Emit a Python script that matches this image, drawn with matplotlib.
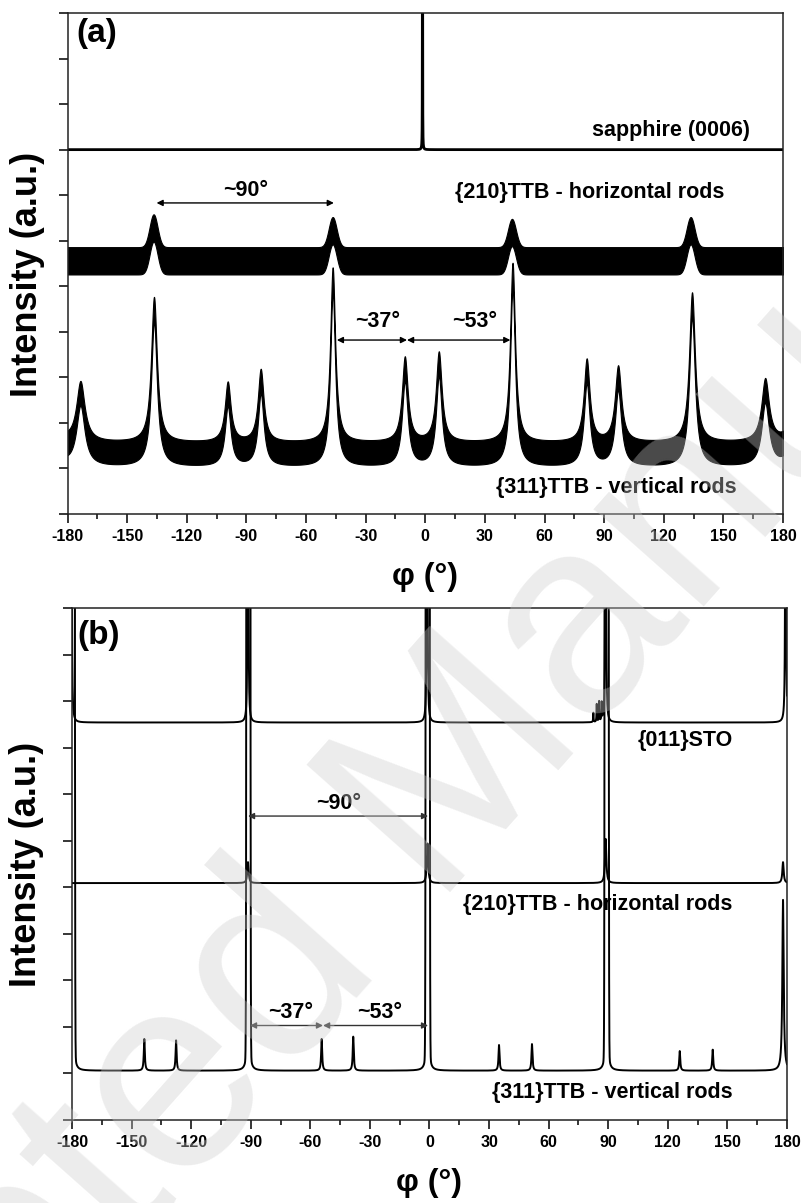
"""Phi scans: (a) sapphire / TTB rods, (b) STO / TTB rods.

Traces are rebuilt from peak lists (position, height, width) read off the
original figure; each scan is a flat baseline plus Lorentzian or Gaussian peaks.
"""

import matplotlib.pyplot as plt
import numpy as np
from matplotlib.ticker import MultipleLocator

plt.rcParams["font.family"] = ["Liberation Sans", "DejaVu Sans"]
plt.rcParams["font.weight"] = "bold"
plt.rcParams["axes.unicode_minus"] = False

# ---- panel (a) ----
SAPPHIRE_BASE = 8.0
SAPPHIRE_POS = [-1.4]
SAPPHIRE_HEIGHT = [200.0]
SAPPHIRE_FWHM = [0.02]

A210_BASE = 5.56
A210_POS = [-136.7, -46.6, 43.6, 133.5]
A210_HEIGHT = [0.72, 0.66, 0.62, 0.66]
A210_SIGMA = [2.0, 2.0, 2.0, 2.0]
A210_NOISE = 0.30

A311_BASE = 1.30
A311_POS = [-173.5, -136.5, -99.4, -82.8, -46.6, -10.3, 6.8, 43.9, 81.2, 97.0, 134.2, 171.0]
A311_HEIGHT = [1.31, 3.18, 1.31, 1.59, 3.83, 1.86, 1.97, 3.93, 1.81, 1.66, 3.28, 1.37]
A311_FWHM = [5.0, 3.5, 3.5, 3.5, 3.0, 3.5, 3.5, 3.0, 3.5, 3.8, 3.5, 4.5]
A311_NOISE = 0.27

# ---- panel (b) ----
STO_BASE = 8.54
STO_POS = [-180.3, -91.4, -1.2, 88.7, 179.3, 82.5, 84.2, 85.4, 86.7]
STO_HEIGHT = [40.0, 40.0, 40.0, 40.0, 40.0, 0.20, 0.38, 0.43, 0.38]
STO_FWHM = [0.17, 0.17, 0.17, 0.17, 0.17, 0.25, 0.25, 0.25, 0.25]

B210_BASE = 5.09
B210_POS = [-91.4, -1.0, 88.7, 178.0]
B210_HEIGHT = [0.45, 0.85, 0.95, 0.45]
B210_FWHM = [0.8, 0.8, 0.8, 0.8]

B311_BASE = 1.06
B311_POS = [-179.6, -143.6, -127.6, -91.2, -54.3, -38.4, -0.9, 35.0, 51.6, 89.2, 126.0, 142.6, 178.0]
B311_HEIGHT = [1.5, 0.68, 0.65, 1.5, 0.68, 0.73, 1.5, 0.55, 0.57, 1.5, 0.42, 0.45, 3.67]
B311_FWHM = [1.2, 0.6, 0.6, 1.2, 0.6, 0.6, 1.2, 0.6, 0.6, 1.2, 0.6, 0.6, 0.8]
# strong cores of the four big {311} reflections (far off scale)
B311_CORE_POS = [-179.6, -91.2, -0.9, 89.2]
B311_CORE_HEIGHT = [1000.0, 1000.0, 1000.0, 1000.0]
B311_CORE_SIGMA = [0.35, 0.35, 0.35, 0.35]

PHI = np.linspace(-180, 180, 36001)


def scan(base, pos, height, width, kind="lorentz", periodic=False):
    """Baseline plus a sum of peaks on the PHI grid (width = FWHM or sigma)."""
    y = np.full_like(PHI, base)
    for p, h, w in zip(pos, height, width):
        d = PHI - p
        if periodic:
            d = (d + 180) % 360 - 180
        if kind == "gauss":
            y += h * np.exp(-0.5 * (d / w) ** 2)
        else:
            g = w / 2
            y += h * g**2 / (d**2 + g**2)
    return y


def style_axes(ax):
    ax.set_xlim(-180, 180)
    ax.set_ylim(0, 11)
    ax.set_facecolor("none")
    ax.xaxis.set_major_locator(MultipleLocator(30))
    ax.xaxis.set_minor_locator(MultipleLocator(15))
    ax.yaxis.set_major_locator(MultipleLocator(1))
    ax.tick_params(axis="x", which="major", direction="out", length=6.5, width=1.1,
                   labelsize=11.5, pad=4, top=False)
    ax.tick_params(axis="x", which="minor", direction="out", length=3.5, width=1.1, top=False)
    ax.tick_params(axis="y", which="both", direction="out", length=6.5, width=1.1,
                   labelleft=False, right=False)
    for lab in ax.get_xticklabels():
        lab.set_fontweight("bold")
    for s in ax.spines.values():
        s.set_linewidth(1.1)
        s.set_color("#222222")
    ax.set_xlabel("φ (°)", fontsize=23, fontweight="bold", va="center")
    ax.set_ylabel("Intensity (a.u.)", fontsize=26, fontweight="bold", va="center", ha="center")


def arrow(ax, x1, x2, y, color="k"):
    ax.annotate("", xy=(x2, y), xytext=(x1, y),
                arrowprops=dict(arrowstyle="<|-|>", lw=1.0, color=color,
                                mutation_scale=9, shrinkA=0, shrinkB=0))


fig = plt.figure(figsize=(8.01, 12.03), dpi=100)
# semi-transparent watermark laid over the whole page
fig.text(0.528, 0.3225, "Accepted Manuscript", rotation=48.4, fontsize=200,
         fontweight="normal", color="#cccccc", alpha=0.37,
         ha="center", va="center", zorder=10)

ax_a = fig.add_axes([0.0843, 0.5727, 0.8933, 0.4165])
ax_b = fig.add_axes([0.0899, 0.0690, 0.8926, 0.4256])

# ---- (a) ----
ax_a.plot(PHI, scan(SAPPHIRE_BASE, SAPPHIRE_POS, SAPPHIRE_HEIGHT, SAPPHIRE_FWHM),
          color="k", lw=2.0)
y210 = scan(A210_BASE, A210_POS, A210_HEIGHT, A210_SIGMA, kind="gauss", periodic=True)
ax_a.fill_between(PHI, y210 - A210_NOISE, y210 + A210_NOISE, color="k", lw=0.8)
y311 = scan(A311_BASE, A311_POS, A311_HEIGHT, A311_FWHM, periodic=True)
ax_a.fill_between(PHI, y311 - A311_NOISE, y311 + A311_NOISE, color="k", lw=0.8)

txt = dict(fontsize=15.5, fontweight="bold", ha="center", va="center")
ax_a.text(163.6, 8.43, "sapphire (0006)", **{**txt, "ha": "right"})
ax_a.text(82.6, 7.05, "{210}TTB - horizontal rods", **txt)
ax_a.text(96.2, 0.59, "{311}TTB - vertical rods", **txt)
ax_a.text(-175.4, 10.56, "(a)", fontsize=24, fontweight="bold", ha="left", va="center")
ax_a.text(-90.6, 7.11, "~90°", **txt)
arrow(ax_a, -135.2, -46.0, 6.83)
ax_a.text(-23.9, 4.22, "~37°", **txt)
ax_a.text(24.9, 4.22, "~53°", **txt)
arrow(ax_a, -44.5, -9.2, 3.82)
arrow(ax_a, -9.2, 42.8, 3.82)

# ---- (b) ----
ax_b.plot(PHI, scan(STO_BASE, STO_POS, STO_HEIGHT, STO_FWHM), color="k", lw=1.4)
ax_b.plot(PHI, scan(B210_BASE, B210_POS, B210_HEIGHT, B210_FWHM), color="k", lw=1.4)
y311b = scan(B311_BASE, B311_POS, B311_HEIGHT, B311_FWHM)
y311b += scan(0.0, B311_CORE_POS, B311_CORE_HEIGHT, B311_CORE_SIGMA, kind="gauss")
ax_b.plot(PHI, y311b, color="k", lw=1.4)

ax_b.text(128.7, 8.16, "{011}STO", **txt)
ax_b.text(84.9, 4.62, "{210}TTB - horizontal rods", **txt)
ax_b.text(92.2, 0.60, "{311}TTB - vertical rods", **txt)
ax_b.text(-177.2, 10.4, "(b)", fontsize=24, fontweight="bold", ha="left", va="center")
ax_b.text(-45.6, 6.81, "~90°", **txt)
arrow(ax_b, -91.4, -0.7, 6.53, color="#333333")
ax_b.text(-69.7, 2.30, "~37°", **txt)
ax_b.text(-24.9, 2.30, "~53°", **txt)
arrow(ax_b, -90.4, -53.6, 2.03, color="#333333")
arrow(ax_b, -53.6, -0.7, 2.03, color="#333333")

for ax in (ax_a, ax_b):
    style_axes(ax)
ax_a.xaxis.set_label_coords(0.5, -0.126)
ax_a.yaxis.set_label_coords(-0.0566, 0.479)
ax_b.xaxis.set_label_coords(0.5, -0.123)
ax_b.yaxis.set_label_coords(-0.063, 0.5)

fig.savefig("out.png", dpi=100)
